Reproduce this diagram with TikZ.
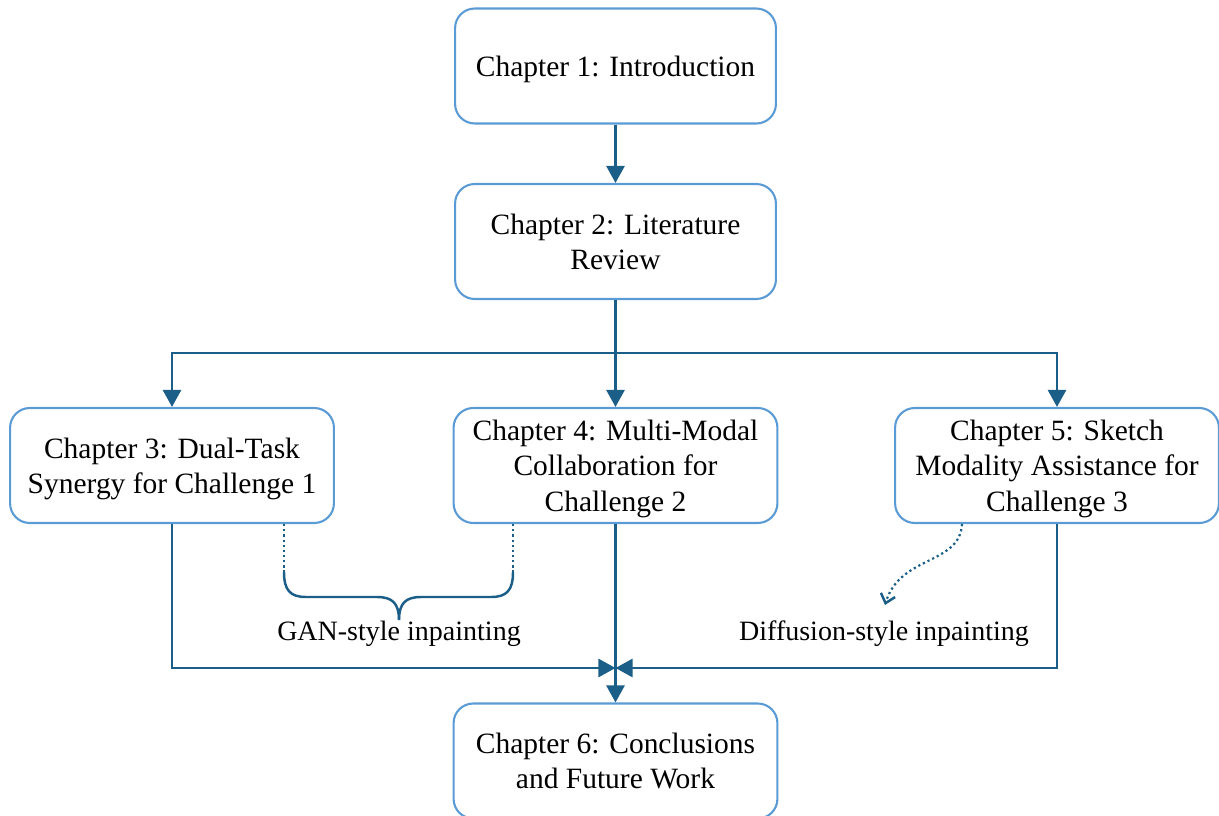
\documentclass[tikz,border=0pt]{standalone}
\usepackage{fontspec}
\setmainfont{Liberation Serif}
\usetikzlibrary{arrows.meta}
\definecolor{boxblue}{RGB}{91,155,213}
\definecolor{linkblue}{RGB}{27,94,136}
\begin{document}
\begin{tikzpicture}[x=0.407pt,y=-0.407pt,
  chapbox/.style={draw=boxblue, line width=0.85pt, rounded corners=8pt,
    minimum width=130.5pt, minimum height=46.8pt, align=center,
    font=\fontsize{12pt}{14.4pt}\selectfont, inner sep=0pt, text depth=0pt},
  link/.style={draw=linkblue, line width=1.1pt,
    -{Triangle[width=7.4pt,length=7pt]}},
  plainlink/.style={draw=linkblue, line width=1.1pt},
  dotlink/.style={draw=linkblue, line width=0.9pt, dash pattern=on 0.9pt off 1.2pt},
  lbl/.style={font=\fontsize{11.4pt}{13.7pt}\selectfont, inner sep=0pt, anchor=base}]
  \useasboundingbox (0,0) rectangle (1219,816);

  % chapter boxes
  \node[chapbox, minimum width=130.6pt] (b1) at (615.5,66) {Chapter 1: Introduction};
  \node[chapbox, minimum width=130.6pt] (b2) at (615.5,241.5) {Chapter 2: Literature\\Review};
  \node[chapbox, minimum width=131.8pt] (b3) at (172,465.5) {Chapter 3: Dual-Task\\Synergy for Challenge 1};
  \node[chapbox, minimum width=131.8pt] (b4) at (615.5,465.5) {Chapter 4: Multi-Modal\\Collaboration for\\Challenge 2};
  \node[chapbox, minimum width=131.8pt] (b5) at (1057,465.5) {Chapter 5: Sketch\\Modality Assistance for\\Challenge 3};
  \node[chapbox, minimum width=131.8pt] (b6) at (615.5,761) {Chapter 6: Conclusions\\and Future Work};

  % side labels
  \node[lbl] (gan) at (399,640) {GAN-style inpainting};
  \node[lbl] (diff) at (884,640) {Diffusion-style inpainting};

  % routing points
  \coordinate (split) at (615.5,353);
  \coordinate (join) at (615.5,668);
  \coordinate (gl) at (284,572);
  \coordinate (gr) at (513,572);
  \coordinate (dstart) at (962,0);
  \coordinate (dend) at (885,605);

  % main flow
  \draw[link] (b1) -- (b2);
  \draw[plainlink] (b2) -- (split);
  \draw[link] (split) -| (b3.north);
  \draw[link] (split) -- (b4);
  \draw[link] (split) -| (b5.north);
  \draw[link] (b3.south) |- (join);
  \draw[link] (b5.south) |- (join);
  \draw[link] (b4) -- (b6);

  % brace grouping chapters 3 and 4
  \draw[dotlink] (b3.south -| gl) -- (gl);
  \draw[dotlink] (b4.south -| gr) -- (gr);
  \draw[plainlink, line width=1pt] (gl) .. controls (284,590) and (290,597) .. (306,597)
    -- (377,597) .. controls (392,597) and (399,603) .. (399,620);
  \draw[plainlink, line width=1pt] (gr) .. controls (513,590) and (507,597) .. (491,597)
    -- (421,597) .. controls (406,597) and (399,603) .. (399,620);

  % curved pointer from chapter 5
  \draw[dotlink, -{Straight Barb[width=6pt,length=3.5pt,line width=1pt]}]
    (b5.south -| dstart) .. controls (960,565) and (900,555) .. (dend);
\end{tikzpicture}
\end{document}
